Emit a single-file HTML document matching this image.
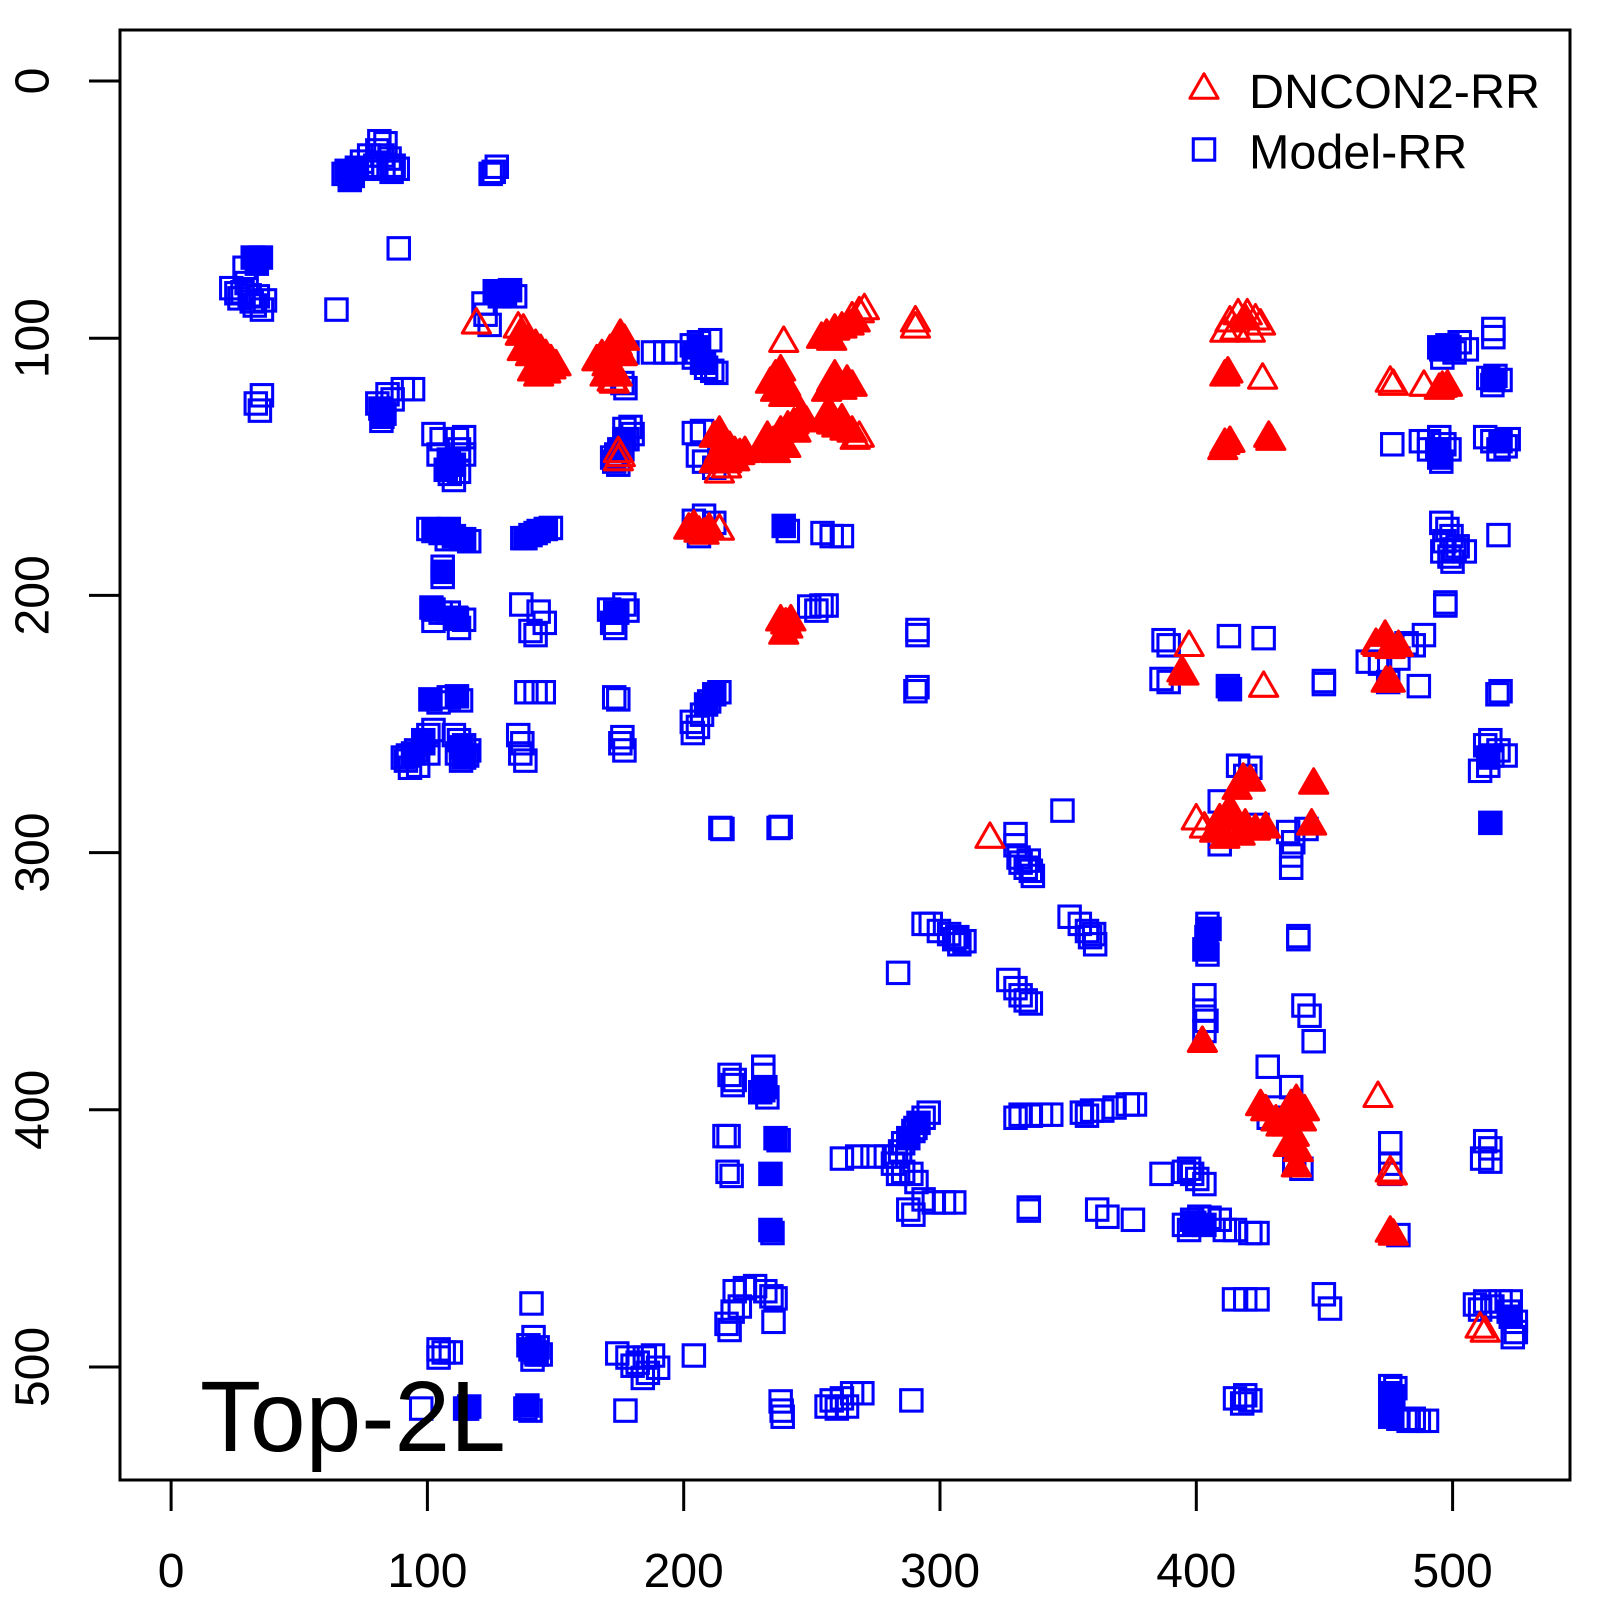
<!DOCTYPE html>
<html>
<head>
<meta charset="utf-8">
<style>
html,body{margin:0;padding:0;background:#fff;}
svg{display:block;}
text{font-family:"Liberation Sans",Arial,Helvetica,sans-serif;fill:#000;}
</style>
</head>
<body>
<svg xmlns="http://www.w3.org/2000/svg" width="1600" height="1600" viewBox="0 0 1600 1600">
<defs>
<rect id="s" x="-10.5" y="-10.5" width="21" height="21" fill="none" stroke="#0000FF" stroke-width="3"/>
<rect id="S" x="-10.5" y="-10.5" width="21" height="21" fill="#0000FF" stroke="#0000FF" stroke-width="3"/>
<path id="t" d="M0,-12 L13.8,12 L-13.8,12 Z" fill="none" stroke="#FF0000" stroke-width="3" stroke-linejoin="round"/>
<path id="T" d="M0,-12 L13.8,12 L-13.8,12 Z" fill="#FF0000" stroke="#FF0000" stroke-width="3" stroke-linejoin="round"/>
</defs>
<rect x="0" y="0" width="1600" height="1600" fill="#fff"/>

<g transform="matrix(1.0211,0,0,1.0204,-0.49,0.41)">
<!-- ============ BLUE SQUARES ============ -->
<!-- top-left -->
<use href="#S" x="340" y="167"/><use href="#S" x="346" y="172"/><use href="#S" x="343" y="176"/><use href="#S" x="350" y="164"/>
<use href="#s" x="337" y="170"/><use href="#s" x="355" y="158"/><use href="#s" x="362" y="152"/><use href="#s" x="370" y="147"/><use href="#s" x="372" y="138"/><use href="#s" x="378" y="140"/><use href="#s" x="375" y="152"/><use href="#s" x="382" y="155"/><use href="#s" x="386" y="162"/><use href="#s" x="384" y="168"/><use href="#s" x="376" y="165"/><use href="#s" x="368" y="162"/><use href="#s" x="390" y="165"/><use href="#s" x="360" y="165"/>
<use href="#s" x="481" y="170"/><use href="#s" x="487" y="163"/><use href="#s" x="484" y="168"/>
<use href="#s" x="391" y="243"/>
<use href="#S" x="248" y="252"/><use href="#S" x="256" y="252"/><use href="#S" x="252" y="258"/>
<use href="#s" x="240" y="262"/><use href="#s" x="227" y="282"/><use href="#s" x="238" y="286"/><use href="#s" x="245" y="289"/><use href="#s" x="253" y="290"/><use href="#s" x="250" y="299"/><use href="#s" x="260" y="294"/><use href="#s" x="242" y="277"/><use href="#s" x="235" y="292"/><use href="#s" x="257" y="303"/><use href="#s" x="232" y="287"/><use href="#s" x="247" y="295"/>
<use href="#s" x="330" y="303"/>
<use href="#S" x="485" y="285"/><use href="#S" x="495" y="287"/><use href="#S" x="500" y="284"/>
<use href="#s" x="490" y="290"/><use href="#s" x="474" y="297"/><use href="#s" x="476" y="308"/><use href="#s" x="480" y="318"/><use href="#s" x="505" y="290"/>
<use href="#s" x="257" y="387"/><use href="#s" x="251" y="395"/><use href="#s" x="255" y="402"/>
<use href="#S" x="373" y="400"/><use href="#S" x="375" y="408"/>
<use href="#s" x="377" y="405"/><use href="#s" x="374" y="412"/><use href="#s" x="380" y="386"/><use href="#s" x="395" y="381"/><use href="#s" x="405" y="381"/><use href="#s" x="385" y="391"/><use href="#s" x="370" y="395"/>
<use href="#S" x="440" y="450"/><use href="#S" x="445" y="455"/><use href="#S" x="437" y="460"/>
<use href="#s" x="425" y="425"/><use href="#s" x="448" y="430"/><use href="#s" x="455" y="428"/><use href="#s" x="430" y="445"/><use href="#s" x="441" y="464"/><use href="#s" x="450" y="440"/><use href="#s" x="455" y="445"/><use href="#s" x="433" y="430"/><use href="#s" x="445" y="470"/><use href="#s" x="450" y="462"/>
<!-- cluster ~ (605,440) -->
<use href="#S" x="607" y="440"/><use href="#S" x="612" y="430"/>
<use href="#s" x="604" y="445"/><use href="#s" x="602" y="452"/><use href="#s" x="610" y="440"/><use href="#s" x="615" y="430"/><use href="#s" x="620" y="425"/><use href="#s" x="612" y="420"/><use href="#s" x="618" y="418"/><use href="#s" x="606" y="455"/><use href="#s" x="600" y="448"/>
<use href="#s" x="615" y="345"/><use href="#s" x="610" y="375"/><use href="#s" x="613" y="380"/>
<use href="#s" x="640" y="345"/><use href="#s" x="652" y="345"/><use href="#s" x="660" y="345"/>
<use href="#S" x="685" y="340"/><use href="#S" x="690" y="355"/>
<use href="#s" x="678" y="338"/><use href="#s" x="685" y="335"/><use href="#s" x="696" y="333"/><use href="#s" x="680" y="350"/><use href="#s" x="688" y="355"/><use href="#s" x="698" y="363"/><use href="#s" x="692" y="360"/><use href="#s" x="702" y="365"/><use href="#s" x="683" y="345"/>
<use href="#s" x="680" y="424"/><use href="#s" x="688" y="422"/><use href="#s" x="684" y="446"/><use href="#s" x="690" y="452"/><use href="#s" x="700" y="458"/>
<use href="#S" x="768" y="515"/><use href="#s" x="772" y="520"/><use href="#s" x="806" y="522"/><use href="#s" x="815" y="525"/><use href="#s" x="825" y="525"/>
<use href="#S" x="603" y="600"/>
<use href="#s" x="597" y="597"/><use href="#s" x="605" y="600"/><use href="#s" x="612" y="592"/><use href="#s" x="615" y="598"/><use href="#s" x="600" y="610"/><use href="#s" x="603" y="615"/>
<use href="#s" x="511" y="592"/><use href="#s" x="528" y="599"/><use href="#s" x="534" y="610"/><use href="#s" x="525" y="622"/><use href="#s" x="520" y="618"/>
<use href="#S" x="425" y="520"/><use href="#S" x="438" y="520"/><use href="#S" x="445" y="525"/><use href="#S" x="455" y="528"/>
<use href="#s" x="432" y="522"/><use href="#s" x="440" y="518"/><use href="#s" x="452" y="528"/><use href="#s" x="460" y="530"/><use href="#s" x="438" y="528"/><use href="#s" x="420" y="518"/>
<use href="#S" x="434" y="560"/><use href="#s" x="434" y="555"/><use href="#s" x="434" y="565"/>
<use href="#S" x="425" y="597"/><use href="#S" x="448" y="606"/>
<use href="#s" x="423" y="595"/><use href="#s" x="432" y="600"/><use href="#s" x="440" y="600"/><use href="#s" x="447" y="605"/><use href="#s" x="455" y="607"/><use href="#s" x="425" y="608"/><use href="#s" x="450" y="615"/>
<use href="#S" x="515" y="527"/><use href="#S" x="525" y="522"/><use href="#S" x="535" y="518"/>
<use href="#s" x="512" y="527"/><use href="#s" x="520" y="524"/><use href="#s" x="528" y="520"/><use href="#s" x="540" y="517"/>
<use href="#s" x="680" y="510"/><use href="#s" x="690" y="505"/><use href="#s" x="700" y="512"/><use href="#s" x="685" y="525"/>
<use href="#s" x="793" y="594"/><use href="#s" x="805" y="593"/><use href="#s" x="810" y="593"/><use href="#s" x="800" y="598"/>
<use href="#S" x="422" y="685"/><use href="#S" x="448" y="682"/><use href="#S" x="405" y="738"/><use href="#S" x="415" y="728"/><use href="#S" x="452" y="732"/><use href="#S" x="455" y="742"/>
<use href="#s" x="430" y="688"/><use href="#s" x="440" y="683"/><use href="#s" x="452" y="686"/><use href="#s" x="400" y="740"/><use href="#s" x="408" y="735"/><use href="#s" x="415" y="725"/><use href="#s" x="420" y="720"/><use href="#s" x="425" y="715"/><use href="#s" x="410" y="750"/><use href="#s" x="402" y="752"/><use href="#s" x="398" y="745"/><use href="#s" x="445" y="720"/><use href="#s" x="450" y="725"/><use href="#s" x="455" y="730"/><use href="#s" x="458" y="740"/><use href="#s" x="452" y="745"/><use href="#s" x="448" y="738"/><use href="#s" x="460" y="735"/><use href="#s" x="420" y="738"/><use href="#s" x="395" y="742"/>
<use href="#s" x="516" y="678"/><use href="#s" x="525" y="678"/><use href="#s" x="533" y="678"/><use href="#s" x="508" y="720"/><use href="#s" x="512" y="728"/><use href="#s" x="510" y="738"/><use href="#s" x="515" y="745"/>
<use href="#s" x="602" y="683"/><use href="#s" x="606" y="685"/><use href="#s" x="610" y="722"/><use href="#s" x="612" y="735"/><use href="#s" x="608" y="728"/>
<use href="#S" x="700" y="680"/><use href="#S" x="692" y="690"/>
<use href="#s" x="705" y="678"/><use href="#s" x="695" y="687"/><use href="#s" x="688" y="700"/><use href="#s" x="678" y="707"/><use href="#s" x="684" y="712"/><use href="#s" x="679" y="718"/>
<use href="#s" x="706" y="811"/><use href="#s" x="708" y="812"/><use href="#s" x="763" y="811"/><use href="#s" x="765" y="810"/>
<!-- top right -->
<use href="#s" x="1463" y="322"/><use href="#s" x="1463" y="330"/>
<use href="#S" x="1412" y="342"/><use href="#S" x="1420" y="340"/>
<use href="#s" x="1410" y="340"/><use href="#s" x="1418" y="338"/><use href="#s" x="1425" y="345"/><use href="#s" x="1413" y="350"/><use href="#s" x="1430" y="335"/><use href="#s" x="1437" y="342"/>
<use href="#S" x="1463" y="372"/>
<use href="#s" x="1458" y="370"/><use href="#s" x="1465" y="368"/><use href="#s" x="1470" y="372"/><use href="#s" x="1462" y="377"/>
<use href="#s" x="1364" y="435"/>
<use href="#S" x="1408" y="440"/><use href="#S" x="1410" y="448"/>
<use href="#s" x="1400" y="432"/><use href="#s" x="1410" y="428"/><use href="#s" x="1415" y="435"/><use href="#s" x="1412" y="452"/><use href="#s" x="1400" y="440"/><use href="#s" x="1420" y="440"/><use href="#s" x="1392" y="432"/>
<use href="#S" x="1470" y="432"/>
<use href="#s" x="1455" y="428"/><use href="#s" x="1475" y="437"/><use href="#s" x="1468" y="440"/><use href="#s" x="1462" y="432"/><use href="#s" x="1478" y="430"/>
<use href="#s" x="1412" y="512"/><use href="#s" x="1418" y="518"/><use href="#s" x="1422" y="525"/><use href="#s" x="1415" y="530"/><use href="#s" x="1425" y="538"/><use href="#s" x="1420" y="545"/><use href="#s" x="1435" y="540"/><use href="#s" x="1428" y="535"/><use href="#s" x="1413" y="540"/><use href="#s" x="1423" y="550"/>
<use href="#s" x="1468" y="524"/><use href="#s" x="1416" y="593"/><use href="#s" x="1416" y="590"/>
<!-- mid right -->
<use href="#s" x="899" y="617"/><use href="#s" x="899" y="622"/><use href="#s" x="899" y="673"/><use href="#s" x="897" y="677"/>
<use href="#s" x="1140" y="627"/><use href="#s" x="1145" y="632"/><use href="#s" x="1138" y="665"/><use href="#s" x="1145" y="668"/>
<use href="#s" x="1204" y="623"/><use href="#s" x="1238" y="625"/><use href="#S" x="1205" y="675"/><use href="#s" x="1203" y="672"/>
<use href="#s" x="1297" y="667"/><use href="#s" x="1297" y="670"/>
<use href="#s" x="1378" y="630"/><use href="#s" x="1385" y="632"/><use href="#s" x="1370" y="645"/><use href="#s" x="1352" y="650"/><use href="#s" x="1390" y="672"/><use href="#s" x="1360" y="668"/><use href="#s" x="1395" y="622"/><use href="#s" x="1340" y="648"/>
<use href="#s" x="1470" y="677"/><use href="#s" x="1467" y="680"/><use href="#S" x="1458" y="742"/>
<use href="#s" x="1455" y="730"/><use href="#s" x="1460" y="725"/><use href="#s" x="1462" y="740"/><use href="#s" x="1458" y="750"/><use href="#s" x="1450" y="755"/><use href="#s" x="1468" y="735"/><use href="#s" x="1475" y="740"/>
<use href="#S" x="1460" y="806"/>
<use href="#s" x="1213" y="750"/><use href="#s" x="1225" y="752"/><use href="#s" x="1220" y="760"/><use href="#s" x="1195" y="827"/><use href="#s" x="1262" y="815"/><use href="#s" x="1267" y="825"/><use href="#s" x="1265" y="838"/><use href="#s" x="1265" y="850"/><use href="#s" x="1280" y="812"/><use href="#s" x="1195" y="785"/><use href="#s" x="1232" y="808"/>
<use href="#s" x="995" y="817"/><use href="#s" x="995" y="828"/><use href="#s" x="1000" y="845"/><use href="#s" x="1005" y="850"/><use href="#s" x="1010" y="853"/><use href="#s" x="1012" y="858"/><use href="#s" x="1008" y="843"/><use href="#s" x="998" y="840"/>
<use href="#s" x="1041" y="794"/>
<use href="#s" x="905" y="905"/><use href="#s" x="912" y="905"/><use href="#s" x="920" y="912"/><use href="#s" x="930" y="915"/><use href="#s" x="935" y="920"/><use href="#s" x="940" y="925"/><use href="#s" x="945" y="922"/><use href="#s" x="938" y="918"/>
<use href="#s" x="880" y="953"/>
<use href="#s" x="1048" y="898"/><use href="#s" x="1058" y="905"/><use href="#s" x="1065" y="912"/><use href="#s" x="1072" y="915"/><use href="#s" x="1073" y="925"/><use href="#s" x="1068" y="918"/>
<use href="#s" x="988" y="960"/><use href="#s" x="995" y="968"/><use href="#s" x="1000" y="975"/><use href="#s" x="1005" y="980"/><use href="#s" x="1010" y="983"/>
<use href="#S" x="1183" y="910"/><use href="#S" x="1181" y="930"/>
<use href="#s" x="1183" y="905"/><use href="#s" x="1185" y="910"/><use href="#s" x="1182" y="918"/><use href="#s" x="1180" y="930"/><use href="#s" x="1183" y="935"/>
<use href="#s" x="1272" y="917"/><use href="#s" x="1272" y="920"/>
<use href="#s" x="1180" y="975"/><use href="#s" x="1180" y="990"/><use href="#s" x="1182" y="1000"/><use href="#s" x="1180" y="1010"/>
<use href="#s" x="1277" y="985"/><use href="#s" x="1283" y="995"/><use href="#s" x="1287" y="1020"/>
<use href="#s" x="1242" y="1045"/>
<use href="#s" x="1243" y="1095"/><use href="#s" x="1270" y="1090"/><use href="#s" x="1265" y="1065"/><use href="#s" x="1275" y="1145"/><use href="#s" x="1250" y="1085"/><use href="#s" x="1268" y="1140"/>
<use href="#s" x="1362" y="1120"/><use href="#s" x="1362" y="1140"/><use href="#s" x="1362" y="1150"/>
<use href="#s" x="1455" y="1118"/><use href="#s" x="1460" y="1125"/><use href="#s" x="1452" y="1135"/><use href="#s" x="1460" y="1138"/>
<use href="#s" x="1370" y="1210"/>
<!-- lower -->
<use href="#S" x="900" y="1100"/><use href="#S" x="890" y="1115"/>
<use href="#s" x="905" y="1095"/><use href="#s" x="895" y="1108"/><use href="#s" x="885" y="1120"/><use href="#s" x="882" y="1128"/><use href="#s" x="878" y="1133"/><use href="#s" x="910" y="1090"/><use href="#s" x="897" y="1105"/><use href="#s" x="875" y="1140"/><use href="#s" x="880" y="1150"/><use href="#s" x="885" y="1148"/>
<use href="#s" x="825" y="1135"/><use href="#s" x="840" y="1133"/><use href="#s" x="855" y="1133"/><use href="#s" x="868" y="1133"/>
<use href="#s" x="893" y="1150"/><use href="#s" x="898" y="1158"/><use href="#s" x="905" y="1175"/><use href="#s" x="915" y="1178"/><use href="#s" x="925" y="1178"/><use href="#s" x="935" y="1178"/><use href="#s" x="890" y="1185"/><use href="#s" x="895" y="1190"/>
<use href="#s" x="995" y="1095"/><use href="#s" x="1000" y="1092"/><use href="#s" x="1010" y="1093"/><use href="#s" x="1020" y="1092"/><use href="#s" x="1030" y="1092"/>
<use href="#s" x="1060" y="1090"/><use href="#s" x="1070" y="1088"/><use href="#s" x="1080" y="1088"/><use href="#s" x="1092" y="1085"/><use href="#s" x="1105" y="1082"/><use href="#s" x="1112" y="1082"/><use href="#s" x="1065" y="1093"/>
<use href="#s" x="1008" y="1183"/><use href="#s" x="1008" y="1186"/>
<use href="#s" x="1075" y="1185"/><use href="#s" x="1085" y="1192"/><use href="#s" x="1110" y="1195"/>
<use href="#s" x="1138" y="1150"/><use href="#s" x="1160" y="1148"/><use href="#s" x="1165" y="1145"/><use href="#s" x="1173" y="1155"/><use href="#s" x="1180" y="1160"/><use href="#s" x="1168" y="1150"/>
<use href="#S" x="1170" y="1198"/><use href="#S" x="1180" y="1200"/>
<use href="#s" x="1160" y="1200"/><use href="#s" x="1168" y="1195"/><use href="#s" x="1175" y="1192"/><use href="#s" x="1185" y="1193"/><use href="#s" x="1195" y="1195"/><use href="#s" x="1200" y="1205"/><use href="#s" x="1210" y="1205"/><use href="#s" x="1225" y="1208"/><use href="#s" x="1232" y="1208"/><use href="#s" x="1165" y="1205"/>
<use href="#s" x="1209" y="1273"/><use href="#s" x="1220" y="1273"/><use href="#s" x="1232" y="1273"/>
<use href="#s" x="1297" y="1268"/><use href="#s" x="1303" y="1282"/>
<use href="#S" x="1480" y="1290"/>
<use href="#s" x="1445" y="1278"/><use href="#s" x="1455" y="1275"/><use href="#s" x="1470" y="1275"/><use href="#s" x="1480" y="1275"/><use href="#s" x="1478" y="1285"/><use href="#s" x="1485" y="1295"/><use href="#s" x="1485" y="1305"/><use href="#s" x="1482" y="1310"/><use href="#s" x="1450" y="1283"/><use href="#s" x="1462" y="1280"/>
<use href="#s" x="1210" y="1370"/><use href="#s" x="1220" y="1367"/><use href="#s" x="1225" y="1372"/><use href="#s" x="1217" y="1375"/>
<use href="#S" x="1362" y="1365"/><use href="#S" x="1362" y="1388"/>
<use href="#s" x="1362" y="1358"/><use href="#s" x="1367" y="1360"/><use href="#s" x="1365" y="1368"/><use href="#s" x="1362" y="1375"/><use href="#s" x="1370" y="1390"/><use href="#s" x="1380" y="1392"/><use href="#s" x="1390" y="1392"/><use href="#s" x="1398" y="1392"/><use href="#s" x="1385" y="1390"/>
<use href="#s" x="893" y="1372"/>
<use href="#s" x="810" y="1378"/><use href="#s" x="815" y="1372"/><use href="#s" x="825" y="1370"/><use href="#s" x="835" y="1365"/><use href="#s" x="845" y="1365"/><use href="#s" x="830" y="1378"/><use href="#s" x="820" y="1380"/>
<use href="#s" x="765" y="1373"/><use href="#s" x="766" y="1382"/><use href="#s" x="767" y="1388"/>
<!-- lower-left -->
<use href="#s" x="715" y="1053"/><use href="#s" x="720" y="1058"/><use href="#s" x="718" y="1063"/><use href="#s" x="748" y="1045"/><use href="#s" x="748" y="1053"/><use href="#s" x="750" y="1065"/><use href="#s" x="745" y="1070"/><use href="#s" x="752" y="1075"/>
<use href="#S" x="748" y="1068"/>
<use href="#s" x="710" y="1113"/><use href="#s" x="714" y="1113"/>
<use href="#S" x="760" y="1115"/><use href="#s" x="763" y="1117"/>
<use href="#s" x="713" y="1148"/><use href="#s" x="717" y="1152"/>
<use href="#S" x="755" y="1150"/>
<use href="#S" x="755" y="1205"/><use href="#s" x="757" y="1208"/>
<use href="#s" x="720" y="1265"/><use href="#s" x="730" y="1262"/><use href="#s" x="740" y="1260"/><use href="#s" x="750" y="1265"/><use href="#s" x="756" y="1270"/><use href="#s" x="760" y="1272"/><use href="#s" x="718" y="1285"/><use href="#s" x="725" y="1280"/><use href="#s" x="712" y="1297"/><use href="#s" x="715" y="1303"/><use href="#s" x="758" y="1295"/>
<use href="#s" x="605" y="1326"/><use href="#s" x="615" y="1330"/><use href="#s" x="625" y="1335"/><use href="#s" x="632" y="1330"/><use href="#s" x="640" y="1328"/><use href="#s" x="645" y="1340"/><use href="#s" x="635" y="1345"/><use href="#s" x="630" y="1350"/><use href="#s" x="620" y="1338"/>
<use href="#s" x="680" y="1328"/>
<use href="#S" x="520" y="1322"/><use href="#S" x="526" y="1327"/>
<use href="#s" x="525" y="1325"/><use href="#s" x="527" y="1320"/><use href="#s" x="522" y="1332"/><use href="#s" x="530" y="1327"/><use href="#s" x="518" y="1318"/><use href="#s" x="523" y="1310"/><use href="#s" x="521" y="1277"/>
<use href="#s" x="430" y="1322"/><use href="#s" x="435" y="1325"/><use href="#s" x="442" y="1325"/><use href="#s" x="430" y="1330"/>
<use href="#S" x="517" y="1377"/><use href="#s" x="520" y="1382"/><use href="#s" x="515" y="1380"/>
<use href="#S" x="458" y="1380"/><use href="#s" x="456" y="1380"/><use href="#s" x="460" y="1378"/>
<use href="#s" x="413" y="1380"/>
<use href="#s" x="613" y="1382"/>

<!-- ============ RED TRIANGLES ============ -->
<use href="#t" x="467" y="314"/>
<use href="#T" x="510" y="325"/><use href="#T" x="518" y="330"/><use href="#T" x="525" y="335"/><use href="#T" x="530" y="340"/><use href="#T" x="535" y="345"/><use href="#T" x="540" y="350"/><use href="#T" x="520" y="345"/><use href="#T" x="525" y="355"/><use href="#T" x="530" y="360"/><use href="#T" x="535" y="362"/><use href="#T" x="540" y="358"/><use href="#T" x="545" y="355"/><use href="#T" x="522" y="360"/><use href="#T" x="528" y="365"/><use href="#T" x="512" y="340"/>
<use href="#t" x="508" y="318"/><use href="#t" x="513" y="320"/>
<use href="#T" x="590" y="345"/><use href="#T" x="598" y="340"/><use href="#T" x="605" y="335"/><use href="#T" x="612" y="330"/><use href="#T" x="608" y="325"/><use href="#T" x="595" y="355"/><use href="#T" x="600" y="360"/><use href="#T" x="605" y="365"/><use href="#T" x="585" y="350"/><use href="#T" x="593" y="365"/><use href="#T" x="610" y="345"/>
<use href="#t" x="600" y="370"/><use href="#t" x="602" y="372"/>
<use href="#t" x="606" y="440"/><use href="#t" x="606" y="448"/><use href="#t" x="608" y="444"/>
<use href="#T" x="700" y="425"/><use href="#T" x="705" y="420"/><use href="#T" x="710" y="430"/><use href="#T" x="715" y="435"/><use href="#T" x="720" y="440"/><use href="#T" x="705" y="440"/><use href="#T" x="700" y="450"/><use href="#T" x="712" y="450"/><use href="#T" x="720" y="448"/><use href="#T" x="725" y="442"/><use href="#T" x="730" y="440"/>
<use href="#t" x="705" y="460"/><use href="#t" x="712" y="455"/>
<use href="#T" x="675" y="515"/><use href="#T" x="680" y="512"/><use href="#T" x="685" y="518"/><use href="#T" x="690" y="520"/><use href="#T" x="695" y="515"/>
<use href="#t" x="705" y="516"/>
<use href="#T" x="765" y="605"/><use href="#T" x="770" y="608"/><use href="#T" x="775" y="605"/><use href="#T" x="772" y="612"/><use href="#T" x="768" y="618"/>
<use href="#t" x="768" y="332"/>
<use href="#T" x="760" y="365"/><use href="#T" x="765" y="372"/><use href="#T" x="770" y="375"/><use href="#T" x="768" y="385"/><use href="#T" x="775" y="385"/><use href="#T" x="760" y="380"/><use href="#T" x="755" y="372"/><use href="#T" x="765" y="360"/>
<use href="#T" x="815" y="370"/><use href="#T" x="822" y="372"/><use href="#T" x="830" y="370"/><use href="#T" x="835" y="375"/><use href="#T" x="825" y="378"/><use href="#T" x="810" y="380"/><use href="#T" x="818" y="365"/>
<use href="#T" x="752" y="425"/><use href="#T" x="758" y="430"/><use href="#T" x="765" y="420"/><use href="#T" x="772" y="415"/><use href="#T" x="778" y="412"/><use href="#T" x="785" y="405"/><use href="#T" x="790" y="410"/><use href="#T" x="760" y="440"/><use href="#T" x="770" y="435"/><use href="#T" x="780" y="420"/><use href="#T" x="748" y="435"/><use href="#T" x="755" y="438"/>
<use href="#T" x="808" y="410"/><use href="#T" x="815" y="412"/><use href="#T" x="820" y="415"/><use href="#T" x="828" y="418"/><use href="#T" x="835" y="420"/><use href="#T" x="812" y="400"/><use href="#T" x="825" y="408"/>
<use href="#t" x="842" y="425"/><use href="#t" x="838" y="427"/>
<use href="#T" x="810" y="325"/><use href="#T" x="818" y="320"/><use href="#T" x="825" y="318"/><use href="#T" x="832" y="315"/><use href="#T" x="838" y="312"/><use href="#T" x="815" y="330"/><use href="#T" x="805" y="328"/>
<use href="#t" x="842" y="303"/><use href="#t" x="847" y="300"/><use href="#t" x="835" y="308"/>
<use href="#t" x="897" y="312"/><use href="#t" x="897" y="318"/>
<use href="#t" x="970" y="818"/>
<use href="#t" x="1205" y="312"/><use href="#t" x="1213" y="305"/><use href="#t" x="1222" y="305"/><use href="#t" x="1230" y="310"/><use href="#t" x="1210" y="320"/><use href="#t" x="1225" y="322"/><use href="#t" x="1200" y="322"/><use href="#t" x="1235" y="315"/><use href="#T" x="1220" y="310"/>
<use href="#T" x="1200" y="365"/><use href="#T" x="1203" y="362"/><use href="#t" x="1237" y="368"/>
<use href="#T" x="1200" y="432"/><use href="#T" x="1205" y="430"/><use href="#T" x="1198" y="437"/><use href="#T" x="1243" y="425"/><use href="#T" x="1245" y="428"/>
<use href="#t" x="1362" y="371"/><use href="#t" x="1365" y="374"/><use href="#t" x="1395" y="375"/>
<use href="#T" x="1413" y="376"/><use href="#T" x="1418" y="375"/><use href="#T" x="1410" y="378"/>
<use href="#t" x="1165" y="630"/><use href="#T" x="1158" y="655"/><use href="#T" x="1160" y="658"/><use href="#t" x="1238" y="670"/>
<use href="#T" x="1357" y="620"/><use href="#T" x="1362" y="632"/><use href="#T" x="1370" y="630"/><use href="#T" x="1358" y="665"/><use href="#T" x="1362" y="665"/>
<use href="#t" x="1350" y="630"/><use href="#t" x="1348" y="628"/>
<use href="#T" x="1218" y="760"/><use href="#T" x="1225" y="762"/><use href="#T" x="1212" y="770"/><use href="#T" x="1205" y="790"/><use href="#T" x="1210" y="800"/><use href="#T" x="1220" y="805"/><use href="#T" x="1190" y="812"/><use href="#T" x="1200" y="818"/><use href="#T" x="1230" y="810"/><use href="#T" x="1215" y="815"/><use href="#T" x="1240" y="808"/><use href="#T" x="1195" y="800"/>
<use href="#t" x="1172" y="800"/><use href="#t" x="1180" y="808"/>
<use href="#T" x="1287" y="765"/><use href="#T" x="1285" y="805"/>
<use href="#T" x="1178" y="1018"/>
<use href="#T" x="1235" y="1080"/><use href="#T" x="1240" y="1085"/><use href="#T" x="1265" y="1080"/><use href="#T" x="1270" y="1075"/><use href="#T" x="1268" y="1090"/><use href="#T" x="1260" y="1100"/><use href="#T" x="1268" y="1110"/><use href="#T" x="1272" y="1125"/><use href="#T" x="1270" y="1140"/><use href="#T" x="1255" y="1100"/><use href="#T" x="1250" y="1095"/><use href="#T" x="1262" y="1120"/><use href="#T" x="1275" y="1095"/><use href="#T" x="1278" y="1085"/>
<use href="#t" x="1350" y="1072"/><use href="#t" x="1362" y="1145"/><use href="#t" x="1364" y="1148"/>
<use href="#T" x="1362" y="1204"/><use href="#T" x="1365" y="1207"/>
<use href="#t" x="1450" y="1298"/><use href="#t" x="1455" y="1302"/>

<!-- legend symbols -->
<use href="#t" x="1179.6" y="83.9"/>
<use href="#s" x="1179.6" y="146.1"/>
</g>

<!-- plot box -->
<rect x="120" y="30" width="1450" height="1450" fill="none" stroke="#000" stroke-width="3"/>

<!-- x axis ticks -->
<g stroke="#000" stroke-width="3">
<line x1="171.1" y1="1480" x2="171.1" y2="1511"/>
<line x1="427.4" y1="1480" x2="427.4" y2="1511"/>
<line x1="683.7" y1="1480" x2="683.7" y2="1511"/>
<line x1="940" y1="1480" x2="940" y2="1511"/>
<line x1="1196.3" y1="1480" x2="1196.3" y2="1511"/>
<line x1="1452.6" y1="1480" x2="1452.6" y2="1511"/>
<!-- y axis ticks -->
<line x1="89" y1="81" x2="120" y2="81"/>
<line x1="89" y1="338.2" x2="120" y2="338.2"/>
<line x1="89" y1="595.4" x2="120" y2="595.4"/>
<line x1="89" y1="852.6" x2="120" y2="852.6"/>
<line x1="89" y1="1109.8" x2="120" y2="1109.8"/>
<line x1="89" y1="1367" x2="120" y2="1367"/>
</g>

<!-- x tick labels -->
<g font-size="48" text-anchor="middle">
<text x="171.1" y="1587">0</text>
<text x="427.4" y="1587">100</text>
<text x="683.7" y="1587">200</text>
<text x="940" y="1587">300</text>
<text x="1196.3" y="1587">400</text>
<text x="1452.6" y="1587">500</text>
</g>
<!-- y tick labels (rotated) -->
<g font-size="48" text-anchor="middle">
<text transform="translate(48.5,81) rotate(-90)">0</text>
<text transform="translate(48.5,338.2) rotate(-90)">100</text>
<text transform="translate(48.5,595.4) rotate(-90)">200</text>
<text transform="translate(48.5,852.6) rotate(-90)">300</text>
<text transform="translate(48.5,1109.8) rotate(-90)">400</text>
<text transform="translate(48.5,1367) rotate(-90)">500</text>
</g>

<!-- legend text -->
<text x="1249" y="108" font-size="48.5">DNCON2-RR</text>
<text x="1249" y="168.5" font-size="48.5">Model-RR</text>

<!-- panel label -->
<text x="200" y="1451" font-size="100">Top-2L</text>
</svg>
</body>
</html>
